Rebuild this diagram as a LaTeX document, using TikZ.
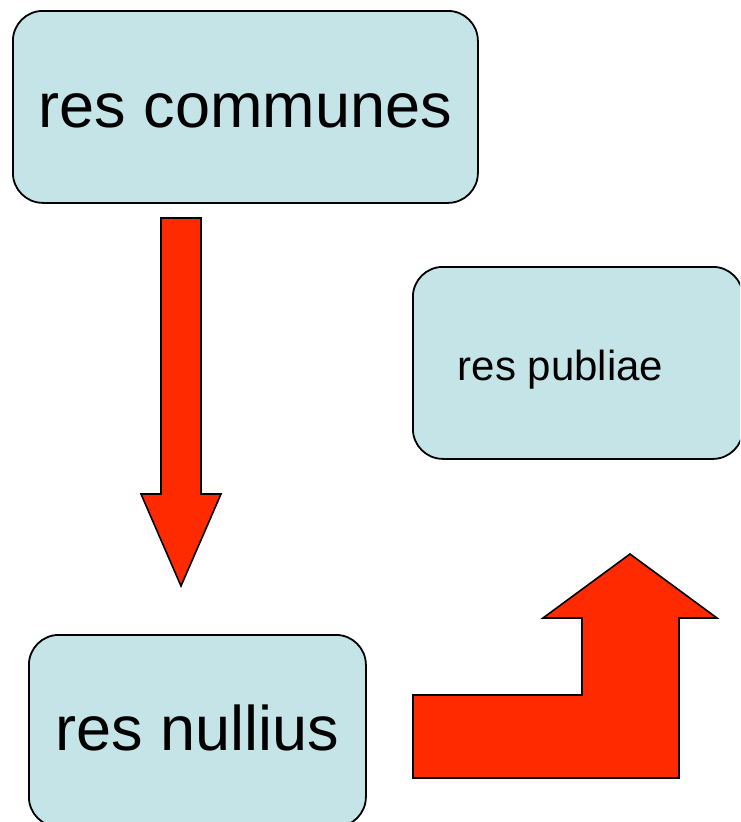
\documentclass[tikz,border=0pt]{standalone}
\usepackage{fontspec}
\setmainfont{Liberation Sans}
\definecolor{boxfill}{RGB}{197,228,232}
\definecolor{arrowred}{RGB}{255,42,0}
\begin{document}
\begin{tikzpicture}[x=1pt,y=-1pt,
  box/.style={draw=black, line width=1.8pt, fill=boxfill, rounded corners=30pt, inner sep=0pt, anchor=north west},
  blockarrow/.style={draw=black, line width=1.6pt, fill=arrowred, line join=miter},
  lbl/.style={anchor=base, inner sep=0pt, text=black}]
\useasboundingbox (0,0) rectangle (740,822);
\clip (0,0) rectangle (740,822);
% boxes
\node[box, minimum width=465pt, minimum height=192pt] (communes) at (12,10) {};
\node[box, minimum width=330pt, minimum height=192pt] (publiae) at (412,266) {};
\node[box, minimum width=337pt, minimum height=192pt] (nullius) at (28,634) {};
% labels
\node[lbl, font=\fontsize{63}{63}\selectfont] (communesT) at (245.5,127) {res communes};
\node[lbl, font=\fontsize{42}{42}\selectfont] (publiaeT) at (560.5,380) {res publiae};
\node[lbl, font=\fontsize{63}{63}\selectfont] (nulliusT) at (197.5,750) {res nullius};
% block arrows
\draw[blockarrow] (161,218) -- (201,218) -- (201,494) -- (221,494) -- (181,586) -- (141,494) -- (161,494) -- cycle;
\draw[blockarrow] (413,695) -- (582,695) -- (582,618) -- (543,618) -- (630,554) -- (717,618) -- (679,618) -- (679,778) -- (413,778) -- cycle;
\end{tikzpicture}
\end{document}
